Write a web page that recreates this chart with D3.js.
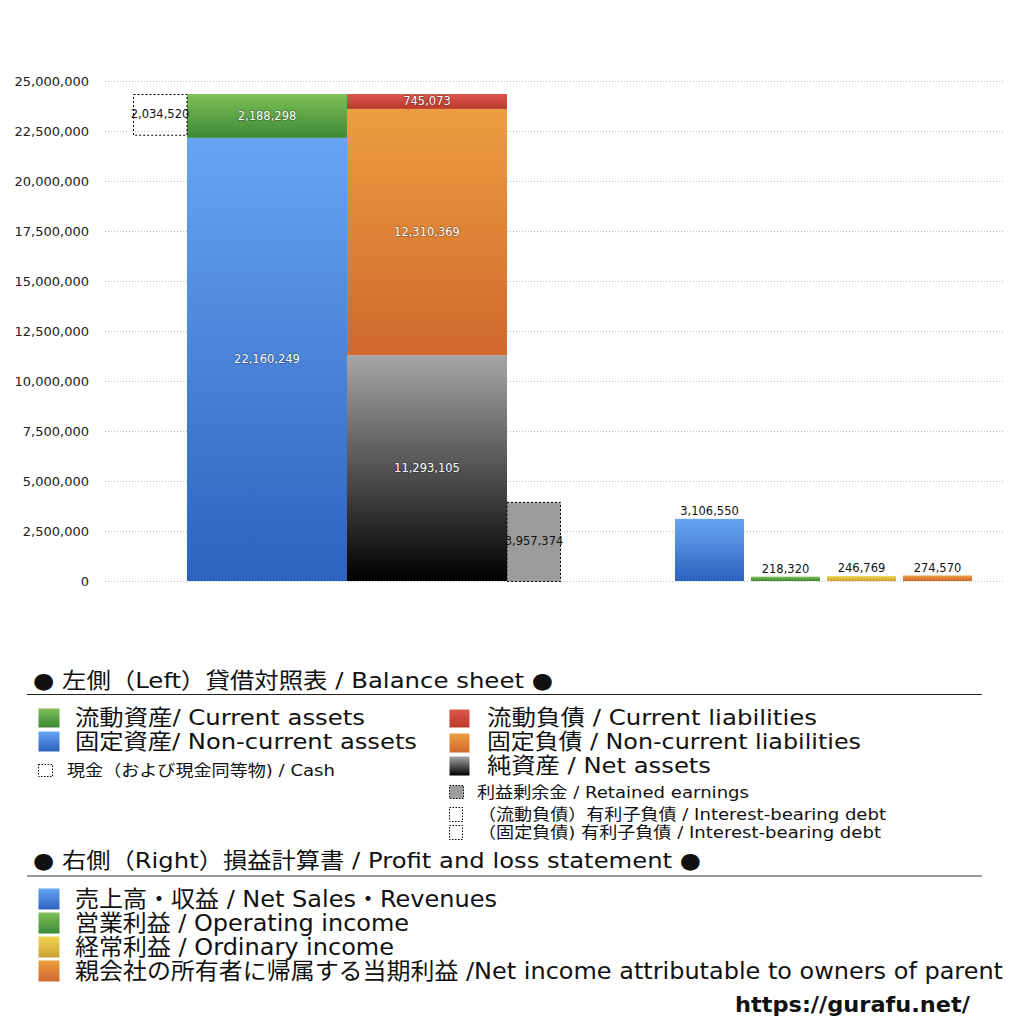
<!DOCTYPE html>
<html>
<head>
<meta charset="utf-8">
<script src="https://cdn.jsdelivr.net/npm/d3@7"></script>
<style>
  body { margin: 0; background: #fff; }
  svg { font-family: 'DejaVu Sans', 'Noto Sans CJK JP', sans-serif; }
</style>
</head>
<body>
<svg id="chart" width="1024" height="1024"></svg>
<script>
// balance sheet (left)
const assetNames = ['固定資産', '流動資産'];
const assetValues = [22160249, 2188298];
const liabNames = ['純資産', '固定負債', '流動負債'];
const liabValues = [11293105, 12310369, 745073];
const cashValue = 2034520;
const retainedValue = 3957374;

// profit and loss (right)
const plNames = ['売上高・収益', '営業利益', '経常利益', '当期利益'];
const plValues = [3106550, 218320, 246769, 274570];

const yTicks = [0, 2500000, 5000000, 7500000, 10000000, 12500000, 15000000, 17500000, 20000000, 22500000, 25000000];

const grads = {
  blue: ['#67a5f2', '#2d62be'],
  green: ['#7fbf58', '#3b8936'],
  red: ['#db584c', '#bb392b'],
  orange: ['#ec9e40', '#d1682e'],
  gray: ['#a6a6a6', '#000000'],
  yellow: ['#f1d553', '#c9a233']
};
const assetColors = ['blue', 'green'];
const liabColors = ['gray', 'orange', 'red'];
const plColors = ['blue', 'green', 'yellow', 'orange'];

const width = 1024, height = 1024;
const margin = { top: 81, bottom: 443, left: 105, right: 19 };

const svg = d3.select('#chart');
const defs = svg.append('defs');
Object.keys(grads).forEach(k => {
  const g = defs.append('linearGradient').attr('id', 'g-' + k)
    .attr('x1', 0).attr('y1', 0).attr('x2', 0).attr('y2', 1);
  g.append('stop').attr('offset', '0%').attr('stop-color', grads[k][0]);
  g.append('stop').attr('offset', '100%').attr('stop-color', grads[k][1]);
});

const y = d3.scaleLinear()
  .domain([0, 25000000])
  .range([height - margin.bottom, margin.top]);

// grid
svg.append('g')
  .selectAll('line')
  .data(yTicks)
  .join('line')
  .attr('x1', margin.left)
  .attr('x2', width - margin.right)
  .attr('y1', d => y(d) + 0.5)
  .attr('y2', d => y(d) + 0.5)
  .attr('stroke', '#bdbdbd')
  .attr('stroke-dasharray', '1,2');

// y axis labels
svg.append('g')
  .attr('transform', `translate(89, 0)`)
  .call(d3.axisLeft(y).tickValues(yTicks).tickSize(0).tickFormat(d3.format(',')))
  .call(g => g.select('.domain').remove())
  .selectAll('text')
  .attr('x', 0)
  .style('font-size', '13px')
  .style('font-family', "'DejaVu Sans', sans-serif")
  .style('fill', '#222');

// left stacked bars
const xL = d3.scaleBand()
  .domain(['assets', 'liab'])
  .range([187, 507])
  .padding(0);
const sideW = xL.bandwidth() * 0.3375;

function stackOf(names, values, colors) {
  let acc = 0;
  return values.map((v, i) => {
    const d = { name: names[i], value: v, y0: acc, y1: acc + v, color: colors[i] };
    acc += v;
    return d;
  });
}

const whiteLabel = sel => sel
  .attr('text-anchor', 'middle')
  .style('font-size', '11.5px')
  .style('font-family', "'DejaVu Sans', sans-serif")
  .style('fill', '#fff')
  .style('stroke', 'rgba(0,0,0,0.3)')
  .style('stroke-width', '1.5px')
  .style('paint-order', 'stroke');

const darkLabel = sel => sel
  .attr('text-anchor', 'middle')
  .style('font-size', '11.5px')
  .style('font-family', "'DejaVu Sans', sans-serif")
  .style('fill', '#111');

[['assets', stackOf(assetNames, assetValues, assetColors)],
 ['liab', stackOf(liabNames, liabValues, liabColors)]].forEach(([key, segs]) => {
  const g = svg.append('g');
  g.selectAll('rect')
    .data(segs)
    .join('rect')
    .attr('x', xL(key))
    .attr('width', xL.bandwidth())
    .attr('y', d => y(d.y1))
    .attr('height', d => y(d.y0) - y(d.y1))
    .attr('fill', d => `url(#g-${d.color})`);
  g.selectAll('text')
    .data(segs)
    .join('text')
    .attr('x', xL(key) + xL.bandwidth() / 2)
    .attr('y', d => (y(d.y0) + y(d.y1)) / 2 + 4)
    .text(d => d3.format(',')(d.value))
    .call(whiteLabel);
});

// cash (dotted box left of the assets bar, hanging from the top)
const totalAssets = d3.sum(assetValues);
svg.append('rect')
  .attr('x', xL('assets') - sideW + 0.5)
  .attr('width', sideW - 0.5)
  .attr('y', y(totalAssets) + 0.5)
  .attr('height', y(totalAssets - cashValue) - y(totalAssets))
  .attr('fill', 'none')
  .attr('stroke', '#000')
  .attr('stroke-dasharray', '2,2');
svg.append('text')
  .attr('x', xL('assets') - sideW / 2)
  .attr('y', (y(totalAssets) + y(totalAssets - cashValue)) / 2 + 4)
  .text(d3.format(',')(cashValue))
  .call(darkLabel);

// retained earnings (dotted box right of liabilities bar)
svg.append('rect')
  .attr('x', xL('liab') + xL.bandwidth())
  .attr('width', sideW - 0.5)
  .attr('y', y(retainedValue) + 0.5)
  .attr('height', y(0) - y(retainedValue))
  .attr('fill', '#9c9c9c')
  .attr('stroke', '#000')
  .attr('stroke-dasharray', '2,2');
svg.append('text')
  .attr('x', xL('liab') + xL.bandwidth() + sideW / 2)
  .attr('y', (y(retainedValue) + y(0)) / 2 + 4)
  .text(d3.format(',')(retainedValue))
  .call(darkLabel);

// right P&L bars
const xR = d3.scaleBand()
  .domain(plNames)
  .range([675, 972])
  .paddingInner(0.092)
  .paddingOuter(0);

const pl = svg.append('g');
pl.selectAll('rect')
  .data(plNames)
  .join('rect')
  .attr('x', d => xR(d))
  .attr('width', xR.bandwidth())
  .attr('y', (d, i) => y(plValues[i]))
  .attr('height', (d, i) => y(0) - y(plValues[i]))
  .attr('fill', (d, i) => `url(#g-${plColors[i]})`);
pl.selectAll('text')
  .data(plNames)
  .join('text')
  .attr('x', d => xR(d) + xR.bandwidth() / 2)
  .attr('y', (d, i) => y(plValues[i]) - 4)
  .text((d, i) => d3.format(',')(plValues[i]))
  .call(darkLabel);

// ---- legend ----
const leg = svg.append('g');

function label(x, yBase, size, len, text) {
  leg.append('text')
    .attr('x', x).attr('y', yBase)
    .attr('textLength', len)
    .attr('lengthAdjust', 'spacingAndGlyphs')
    .style('font-size', size + 'px')
    .style('fill', '#111')
    .text(text);
}

function heading(text, yBase, len, lineY, lineColor, lineW) {
  label(33, yBase, 22, len, text);
  leg.append('line')
    .attr('x1', 27).attr('x2', 982)
    .attr('y1', lineY).attr('y2', lineY)
    .attr('stroke', lineColor)
    .attr('stroke-width', lineW);
}

function swatch(x, yTop, w, h, fill, dashed) {
  leg.append('rect')
    .attr('x', x + 0.5).attr('y', yTop + 0.5)
    .attr('width', w).attr('height', h)
    .attr('fill', fill)
    .attr('stroke', dashed ? '#000' : 'none')
    .attr('stroke-dasharray', dashed ? '1.5,1.5' : null);
}

heading('● 左側（Left）貸借対照表 / Balance sheet ●', 688, 520, 694.5, '#222', 1);

swatch(38, 708, 21, 19, 'url(#g-green)');
label(75, 725, 22, 290, '流動資産/ Current assets');
swatch(38, 731, 21, 20, 'url(#g-blue)');
label(75, 749, 22, 342, '固定資産/ Non-current assets');
swatch(38, 764, 14, 12, 'none', true);
label(67, 776, 16, 268, '現金（および現金同等物) / Cash');

swatch(449, 709, 20, 18, 'url(#g-red)');
label(487, 725, 22, 330, '流動負債 /  Current liabilities');
swatch(449, 733, 20, 19, 'url(#g-orange)');
label(487, 749, 22, 374, '固定負債 / Non-current liabilities');
swatch(449, 756, 20, 19, 'url(#g-gray)');
label(487, 773, 22, 224, '純資産 / Net assets');
swatch(449, 785, 14, 13, '#9c9c9c', true);
label(477, 798, 16, 272, '利益剰余金 / Retained earnings');
swatch(449, 807, 13, 14, 'none', true);
label(478, 820, 16, 408, '（流動負債）有利子負債 / Interest-bearing debt');
swatch(449, 825, 13, 14, 'none', true);
label(478, 838, 16, 403, '（固定負債) 有利子負債 / Interest-bearing debt');

heading('● 右側（Right）損益計算書 / Profit and loss statement ●', 868, 668, 876, '#777', 1.5);

const plLegend = [
  '売上高・収益 / Net Sales・Revenues',
  '営業利益 / Operating income',
  '経常利益 / Ordinary income',
  '親会社の所有者に帰属する当期利益 /Net income attributable to owners of parent'
];
const plLegendLen = [422, 334, 319, 928];
plLegend.forEach((t, i) => {
  swatch(38, 888 + i * 24, 21, 21, `url(#g-${plColors[i]})`);
  label(75, 907 + i * 24, 23, plLegendLen[i], t);
});

leg.append('text')
  .attr('x', 735)
  .attr('y', 1012)
  .attr('textLength', 235)
  .attr('lengthAdjust', 'spacingAndGlyphs')
  .style('font-size', '22px')
  .style('font-weight', 'bold')
  .style('font-family', "'DejaVu Sans', sans-serif")
  .style('fill', '#111')
  .text('https://gurafu.net/');
</script>
</body>
</html>
